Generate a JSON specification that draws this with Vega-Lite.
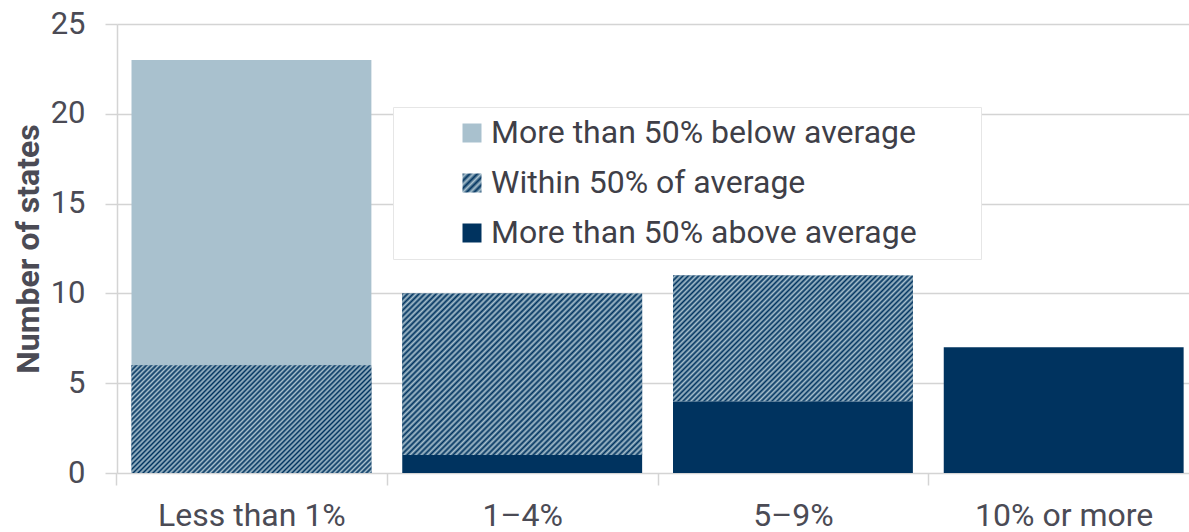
{
  "$schema": "https://vega.github.io/schema/vega-lite/v6.json",
  "autosize": {"type": "none"},
  "width": 1072,
  "height": 449,
  "padding": {"left": 117, "top": 24, "right": 0, "bottom": 59},
  "background": "white",
  "config": {"font": "Roboto", "view": {"stroke": null}},
  "params": [
    {"name": "hatchL", "value": [
      {"offset":0,"color":"#00335f"},{"offset":0.1,"color":"#a9c1ce"},{"offset":0.2,"color":"#00335f"},{"offset":0.3,"color":"#a9c1ce"},{"offset":0.4,"color":"#00335f"},{"offset":0.5,"color":"#a9c1ce"},{"offset":0.6,"color":"#00335f"},{"offset":0.7,"color":"#a9c1ce"},{"offset":0.8,"color":"#00335f"},{"offset":0.9,"color":"#a9c1ce"},{"offset":1,"color":"#00335f"}
    ]},
    {"name": "hatch", "value": [
      {"offset":0,"color":"#00335f"},{"offset":0.0071,"color":"#a9c1ce"},{"offset":0.0143,"color":"#00335f"},{"offset":0.0214,"color":"#a9c1ce"},{"offset":0.0286,"color":"#00335f"},{"offset":0.0357,"color":"#a9c1ce"},{"offset":0.0429,"color":"#00335f"},{"offset":0.05,"color":"#a9c1ce"},{"offset":0.0571,"color":"#00335f"},{"offset":0.0643,"color":"#a9c1ce"},
      {"offset":0.0714,"color":"#00335f"},{"offset":0.0786,"color":"#a9c1ce"},{"offset":0.0857,"color":"#00335f"},{"offset":0.0929,"color":"#a9c1ce"},{"offset":0.1,"color":"#00335f"},{"offset":0.1071,"color":"#a9c1ce"},{"offset":0.1143,"color":"#00335f"},{"offset":0.1214,"color":"#a9c1ce"},{"offset":0.1286,"color":"#00335f"},{"offset":0.1357,"color":"#a9c1ce"},
      {"offset":0.1429,"color":"#00335f"},{"offset":0.15,"color":"#a9c1ce"},{"offset":0.1571,"color":"#00335f"},{"offset":0.1643,"color":"#a9c1ce"},{"offset":0.1714,"color":"#00335f"},{"offset":0.1786,"color":"#a9c1ce"},{"offset":0.1857,"color":"#00335f"},{"offset":0.1929,"color":"#a9c1ce"},{"offset":0.2,"color":"#00335f"},{"offset":0.2071,"color":"#a9c1ce"},
      {"offset":0.2143,"color":"#00335f"},{"offset":0.2214,"color":"#a9c1ce"},{"offset":0.2286,"color":"#00335f"},{"offset":0.2357,"color":"#a9c1ce"},{"offset":0.2429,"color":"#00335f"},{"offset":0.25,"color":"#a9c1ce"},{"offset":0.2571,"color":"#00335f"},{"offset":0.2643,"color":"#a9c1ce"},{"offset":0.2714,"color":"#00335f"},{"offset":0.2786,"color":"#a9c1ce"},
      {"offset":0.2857,"color":"#00335f"},{"offset":0.2929,"color":"#a9c1ce"},{"offset":0.3,"color":"#00335f"},{"offset":0.3071,"color":"#a9c1ce"},{"offset":0.3143,"color":"#00335f"},{"offset":0.3214,"color":"#a9c1ce"},{"offset":0.3286,"color":"#00335f"},{"offset":0.3357,"color":"#a9c1ce"},{"offset":0.3429,"color":"#00335f"},{"offset":0.35,"color":"#a9c1ce"},
      {"offset":0.3571,"color":"#00335f"},{"offset":0.3643,"color":"#a9c1ce"},{"offset":0.3714,"color":"#00335f"},{"offset":0.3786,"color":"#a9c1ce"},{"offset":0.3857,"color":"#00335f"},{"offset":0.3929,"color":"#a9c1ce"},{"offset":0.4,"color":"#00335f"},{"offset":0.4071,"color":"#a9c1ce"},{"offset":0.4143,"color":"#00335f"},{"offset":0.4214,"color":"#a9c1ce"},
      {"offset":0.4286,"color":"#00335f"},{"offset":0.4357,"color":"#a9c1ce"},{"offset":0.4429,"color":"#00335f"},{"offset":0.45,"color":"#a9c1ce"},{"offset":0.4571,"color":"#00335f"},{"offset":0.4643,"color":"#a9c1ce"},{"offset":0.4714,"color":"#00335f"},{"offset":0.4786,"color":"#a9c1ce"},{"offset":0.4857,"color":"#00335f"},{"offset":0.4929,"color":"#a9c1ce"},
      {"offset":0.5,"color":"#00335f"},{"offset":0.5071,"color":"#a9c1ce"},{"offset":0.5143,"color":"#00335f"},{"offset":0.5214,"color":"#a9c1ce"},{"offset":0.5286,"color":"#00335f"},{"offset":0.5357,"color":"#a9c1ce"},{"offset":0.5429,"color":"#00335f"},{"offset":0.55,"color":"#a9c1ce"},{"offset":0.5571,"color":"#00335f"},{"offset":0.5643,"color":"#a9c1ce"},
      {"offset":0.5714,"color":"#00335f"},{"offset":0.5786,"color":"#a9c1ce"},{"offset":0.5857,"color":"#00335f"},{"offset":0.5929,"color":"#a9c1ce"},{"offset":0.6,"color":"#00335f"},{"offset":0.6071,"color":"#a9c1ce"},{"offset":0.6143,"color":"#00335f"},{"offset":0.6214,"color":"#a9c1ce"},{"offset":0.6286,"color":"#00335f"},{"offset":0.6357,"color":"#a9c1ce"},
      {"offset":0.6429,"color":"#00335f"},{"offset":0.65,"color":"#a9c1ce"},{"offset":0.6571,"color":"#00335f"},{"offset":0.6643,"color":"#a9c1ce"},{"offset":0.6714,"color":"#00335f"},{"offset":0.6786,"color":"#a9c1ce"},{"offset":0.6857,"color":"#00335f"},{"offset":0.6929,"color":"#a9c1ce"},{"offset":0.7,"color":"#00335f"},{"offset":0.7071,"color":"#a9c1ce"},
      {"offset":0.7143,"color":"#00335f"},{"offset":0.7214,"color":"#a9c1ce"},{"offset":0.7286,"color":"#00335f"},{"offset":0.7357,"color":"#a9c1ce"},{"offset":0.7429,"color":"#00335f"},{"offset":0.75,"color":"#a9c1ce"},{"offset":0.7571,"color":"#00335f"},{"offset":0.7643,"color":"#a9c1ce"},{"offset":0.7714,"color":"#00335f"},{"offset":0.7786,"color":"#a9c1ce"},
      {"offset":0.7857,"color":"#00335f"},{"offset":0.7929,"color":"#a9c1ce"},{"offset":0.8,"color":"#00335f"},{"offset":0.8071,"color":"#a9c1ce"},{"offset":0.8143,"color":"#00335f"},{"offset":0.8214,"color":"#a9c1ce"},{"offset":0.8286,"color":"#00335f"},{"offset":0.8357,"color":"#a9c1ce"},{"offset":0.8429,"color":"#00335f"},{"offset":0.85,"color":"#a9c1ce"},
      {"offset":0.8571,"color":"#00335f"},{"offset":0.8643,"color":"#a9c1ce"},{"offset":0.8714,"color":"#00335f"},{"offset":0.8786,"color":"#a9c1ce"},{"offset":0.8857,"color":"#00335f"},{"offset":0.8929,"color":"#a9c1ce"},{"offset":0.9,"color":"#00335f"},{"offset":0.9071,"color":"#a9c1ce"},{"offset":0.9143,"color":"#00335f"},{"offset":0.9214,"color":"#a9c1ce"},
      {"offset":0.9286,"color":"#00335f"},{"offset":0.9357,"color":"#a9c1ce"},{"offset":0.9429,"color":"#00335f"},{"offset":0.95,"color":"#a9c1ce"},{"offset":0.9571,"color":"#00335f"},{"offset":0.9643,"color":"#a9c1ce"},{"offset":0.9714,"color":"#00335f"},{"offset":0.9786,"color":"#a9c1ce"},{"offset":0.9857,"color":"#00335f"},{"offset":0.9929,"color":"#a9c1ce"},
      {"offset":1,"color":"#00335f"}
    ]}
  ],
  "data": {"values": [
    {"cat": "Less than 1%", "series": "Within 50% of average", "ord": 2, "value": 6},
    {"cat": "Less than 1%", "series": "More than 50% below average", "ord": 3, "value": 17},
    {"cat": "1–4%", "series": "More than 50% above average", "ord": 1, "value": 1},
    {"cat": "1–4%", "series": "Within 50% of average", "ord": 2, "value": 9},
    {"cat": "5–9%", "series": "More than 50% above average", "ord": 1, "value": 4},
    {"cat": "5–9%", "series": "Within 50% of average", "ord": 2, "value": 7},
    {"cat": "10% or more", "series": "More than 50% above average", "ord": 1, "value": 7}
  ]},
  "transform": [
    {"stack": "value", "groupby": ["cat"], "sort": [{"field": "ord", "order": "ascending"}], "as": ["y0", "y1"]}
  ],
  "encoding": {
    "x": {
      "field": "cat", "type": "nominal",
      "sort": ["Less than 1%", "1–4%", "5–9%", "10% or more"],
      "scale": {"paddingInner": 0.114, "paddingOuter": 0.0367, "align": 0.73},
      "axis": {
        "title": null, "domain": false, "bandPosition": 0, "tickOffset": -15.4,
        "labelOffset": 15.4, "labelLimit": 400, "tickSize": 12,
        "tickColor": "#d4d4d4", "tickWidth": 1.5, "labelFontSize": 32,
        "labelColor": "#4b4b55", "labelPadding": 15, "labelAngle": 0
      }
    },
    "y": {
      "field": "y1", "type": "quantitative",
      "scale": {"domain": [0, 25]},
      "axis": {
        "values": [0, 5, 10, 15, 20, 25], "title": "Number of states",
        "grid": true, "gridColor": "#d4d4d4", "gridWidth": 1.5,
        "domainColor": "#d4d4d4", "domainWidth": 1.5,
        "tickColor": "#d4d4d4", "tickSize": 12, "tickWidth": 1.5,
        "labelFontSize": 31, "labelColor": "#4b4b55", "labelPadding": 20,
        "titleFontSize": 32, "titleFontWeight": "bold", "titleColor": "#4b4b55",
        "titlePadding": 5
      }
    },
    "y2": {"field": "y0"}
  },
  "layer": [
    {
      "mark": {"type": "bar", "strokeWidth": 0},
      "encoding": {
        "color": {
          "field": "series", "type": "nominal",
          "scale": {
            "domain": ["More than 50% below average", "Within 50% of average", "More than 50% above average"],
            "range": ["#a9c1ce", {"expr": "{gradient:'linear',x1:0,y1:0,x2:1,y2:1,stops:hatchL}"}, "#00335f"]
          },
          "legend": {
            "title": null, "orient": "none", "legendX": 276, "legendY": 83,
            "fillColor": "white", "strokeColor": "#e6e6e6", "padding": 10,
            "symbolType": "square", "symbolSize": 361, "symbolStrokeWidth": 0,
            "symbolOffset": 53, "labelOffset": 3, "labelFontSize": 32,
            "labelColor": "#3f3f48", "labelLimit": 800, "rowPadding": 18,
            "labelExpr": "datum.label + '\u00a0\u2800\u2800'"
          }
        }
      }
    },
    {
      "transform": [{"filter": "datum.ord == 2 && datum.cat == 'Less than 1%'"}],
      "mark": {"type": "bar", "strokeWidth": 0, "fill": {"expr": "{gradient:'linear',x1:0,y1:0,x2:1.2059,y2:0.5415,stops:hatch}"}}
    },
    {
      "transform": [{"filter": "datum.ord == 2 && datum.cat == '1–4%'"}],
      "mark": {"type": "bar", "strokeWidth": 0, "fill": {"expr": "{gradient:'linear',x1:0,y1:0,x2:1.1513,y2:0.7752,stops:hatch}"}}
    },
    {
      "transform": [{"filter": "datum.ord == 2 && datum.cat == '5–9%'"}],
      "mark": {"type": "bar", "strokeWidth": 0, "fill": {"expr": "{gradient:'linear',x1:0,y1:0,x2:1.1957,y2:0.6263,stops:hatch}"}}
    }
  ]
}
